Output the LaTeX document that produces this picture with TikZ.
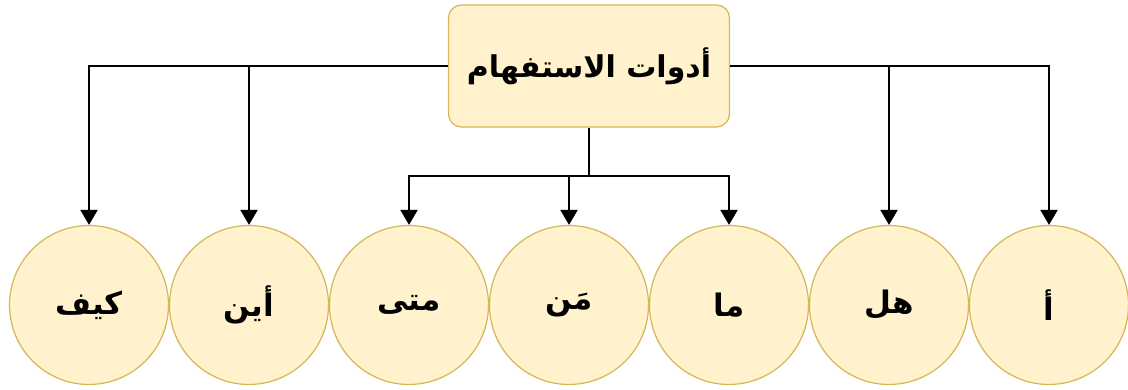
\documentclass[tikz,border=0pt]{standalone}
\usepackage{fontspec}
\newfontfamily\arabicfont[Script=Arabic]{DejaVu Sans}
\TeXXeTstate=1
\usetikzlibrary{arrows.meta}
\definecolor{fillc}{HTML}{FFF2CC}
\definecolor{edgec}{HTML}{D6B656}
\tikzset{
  x=1pt, y=1pt,
  qbox/.style={draw=edgec, fill=fillc, line width=1.2pt, rounded corners=13pt, minimum width=281pt, minimum height=122pt, inner sep=0pt, font=\arabicfont\bfseries\fontsize{30}{36}\selectfont},
  qcirc/.style={circle, draw=edgec, fill=fillc, line width=1.2pt, minimum size=159pt, inner sep=0pt, font=\arabicfont\bfseries\fontsize{31}{36}\selectfont},
  arr/.style={draw=black, line width=2.2pt, -{Triangle[length=15pt,width=17pt]}},
  ln/.style={draw=black, line width=2.2pt}
}
\begin{document}
\begin{tikzpicture}
\useasboundingbox (0,0) rectangle (1128,-390);
\node[qbox] (box) at (589,-66) {\beginR أدوات الاستفهام\endR};
\node[qcirc] (c1) at (89,-305) {\beginR كيف\endR};
\node[qcirc] (c2) at (249,-305) {\beginR أين\endR};
\node[qcirc] (c3) at (409,-305) {\beginR متى\endR};
\node[qcirc] (c4) at (569,-305) {\beginR مَن\endR};
\node[qcirc] (c5) at (729,-305) {\beginR ما\endR};
\node[qcirc] (c6) at (889,-305) {\beginR هل\endR};
\node[qcirc] (c7) at (1049,-305) {\beginR أ\endR};
\coordinate (j) at (589,-176);
\draw[arr] (box.west) -| (c1.north);
\draw[arr] (box.west) -| (c2.north);
\draw[arr] (box.east) -| (c6.north);
\draw[arr] (box.east) -| (c7.north);
\draw[ln] (box.south) -- (j);
\draw[arr] (j) -| (c3.north);
\draw[arr] (j) -| (c4.north);
\draw[arr] (j) -| (c5.north);
\end{tikzpicture}
\end{document}
